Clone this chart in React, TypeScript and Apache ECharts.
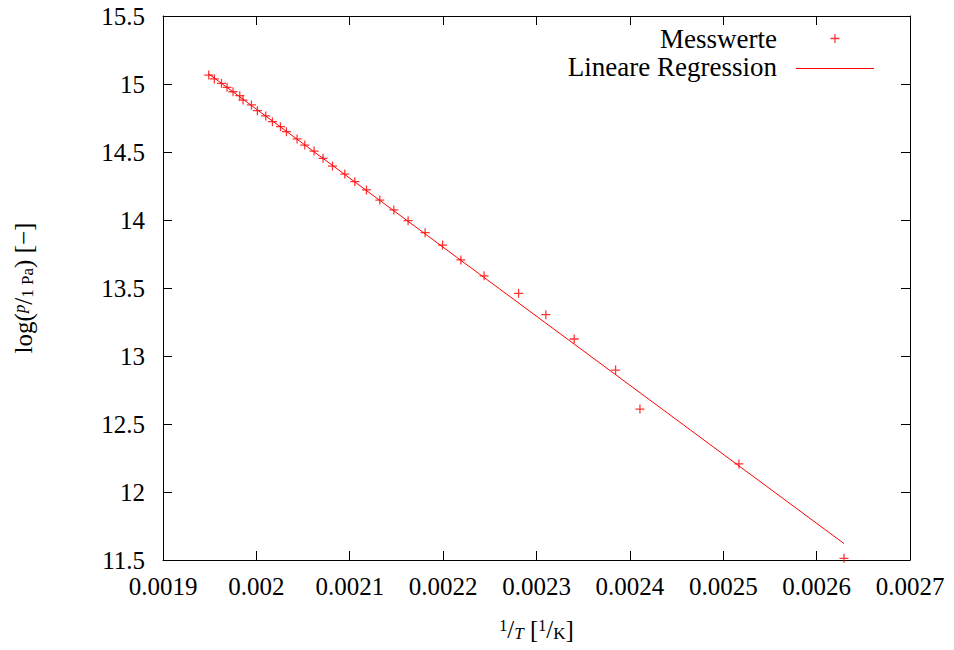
import React, { useEffect, useRef } from "react";
import * as echarts from "echarts";

const xTicks = { min: 0.0019, max: 0.0027, interval: 0.0001 };
const yTicks = { min: 11.5, max: 15.5, interval: 0.5 };

const invT = [
  0.001949, 0.001955, 0.0019626, 0.0019686, 0.001975, 0.0019822, 0.0019857,
  0.0019947, 0.0020011, 0.00201, 0.0020172, 0.0020258, 0.0020322, 0.0020436,
  0.0020518, 0.0020618, 0.0020714, 0.0020815, 0.0020947, 0.0021054, 0.0021179,
  0.0021322, 0.0021472, 0.0021625, 0.0021807, 0.0021994, 0.002219, 0.0022439,
  0.0022808, 0.00231, 0.0023404, 0.0023847, 0.0024108, 0.0025168, 0.0026293,
];
const logP = [
  15.066, 15.037, 15.005, 14.976, 14.943, 14.914, 14.882, 14.846, 14.804,
  14.765, 14.723, 14.686, 14.649, 14.596, 14.551, 14.507, 14.454, 14.397,
  14.338, 14.282, 14.221, 14.147, 14.074, 13.995, 13.907, 13.816, 13.706,
  13.59, 13.461, 13.304, 13.125, 12.897, 12.61, 12.206, 11.512,
];
const regX = [0.001949, 0.0026293];
const regY = [15.074, 11.621];

const FONT = "'Liberation Serif', 'DejaVu Serif', serif";
const PLUS = "path://M0,4.3H10V5.7H0Z M4.3,0H5.7V10H4.3Z";
const RED = "#ff0000";

export default function App() {
  const ref = useRef<HTMLDivElement>(null);
  useEffect(() => {
    if (!ref.current) return;
    const chart = echarts.init(ref.current, null, { renderer: "svg" });
    const axisCommon = {
      type: "value" as const,
      axisLine: { show: true, onZero: false, lineStyle: { color: "#000", width: 1 } },
      axisTick: { show: true, inside: true, length: 9, lineStyle: { color: "#000" } },
      splitLine: { show: false },
    };
    const legendText = {
      fontFamily: FONT,
      fontSize: 27,
      color: "#000",
      lineHeight: 25,
      padding: [0, 14, 0, 0],
    };
    chart.setOption({
      animation: false,
      backgroundColor: "#fff",
      color: [RED, RED],
      grid: { left: 163, right: 44, top: 16, bottom: 90 },
      legend: [
        {
          orient: "vertical",
          align: "right",
          right: 109.5,
          top: 20,
          itemWidth: 78,
          itemHeight: 9,
          textStyle: legendText,
          itemStyle: { color: RED, borderWidth: 0 },
          data: [{ name: "Messwerte", icon: PLUS }],
        },
        {
          orient: "vertical",
          align: "right",
          right: 75,
          top: 48,
          itemWidth: 78,
          itemHeight: 1,
          textStyle: legendText,
          itemStyle: { color: RED, borderColor: RED, borderWidth: 0, opacity: 0 },
          data: [{ name: "Lineare Regression", icon: "rect" }],
        },
      ],
      graphic: [
        {
          type: "line",
          silent: true,
          shape: { x1: 796, y1: 68.5, x2: 874, y2: 68.5 },
          style: { stroke: RED, lineWidth: 1 },
          z: 10,
        },
      ],
      xAxis: [
        {
          ...axisCommon,
          position: "bottom",
          ...xTicks,
          axisLabel: {
            fontFamily: FONT,
            fontSize: 25,
            color: "#000",
            margin: 14,
          },
          name: "{s|1}/{i|T} [{s|1}/{k|K}]",
          nameLocation: "middle",
          nameGap: 57,
          nameTextStyle: {
            fontFamily: FONT,
            fontSize: 25,
            color: "#000",
            rich: {
              s: { fontFamily: FONT, fontSize: 16, verticalAlign: "top", color: "#000" },
              i: { fontFamily: FONT, fontSize: 17, fontStyle: "italic", verticalAlign: "bottom", color: "#000" },
              k: { fontFamily: FONT, fontSize: 17, verticalAlign: "bottom", color: "#000" },
            },
          },
        },
        {
          ...axisCommon,
          position: "top",
          ...xTicks,
          axisLabel: { show: false },
        },
      ],
      yAxis: [
        {
          ...axisCommon,
          position: "left",
          ...yTicks,
          axisLabel: {
            fontFamily: FONT,
            fontSize: 25,
            color: "#000",
            margin: 18,
          },
          name: "log({p|p}/{s|1 Pa}) [−]",
          nameLocation: "middle",
          nameGap: 127,
          nameRotate: 90,
          nameTextStyle: {
            fontFamily: FONT,
            fontSize: 25,
            color: "#000",
            rich: {
              p: { fontFamily: FONT, fontSize: 17, fontStyle: "italic", verticalAlign: "top", color: "#000" },
              s: { fontFamily: FONT, fontSize: 17, verticalAlign: "bottom", color: "#000" },
            },
          },
        },
        {
          ...axisCommon,
          position: "right",
          ...yTicks,
          axisLabel: { show: false },
        },
      ],
      series: [
        {
          name: "Messwerte",
          type: "scatter",
          xAxisIndex: 0,
          yAxisIndex: 0,
          symbol: PLUS,
          symbolSize: 9,
          itemStyle: { color: RED },
          data: invT.map((x, i) => [x, logP[i]]),
        },
        {
          name: "Lineare Regression",
          type: "line",
          xAxisIndex: 0,
          yAxisIndex: 0,
          symbol: "none",
          lineStyle: { color: RED, width: 1 },
          itemStyle: { color: RED },
          data: regX.map((x, i) => [x, regY[i]]),
        },
      ],
    });
    return () => chart.dispose();
  }, []);
  return <div ref={ref} style={{ width: 954, height: 650, margin: -8 }} />;
}
